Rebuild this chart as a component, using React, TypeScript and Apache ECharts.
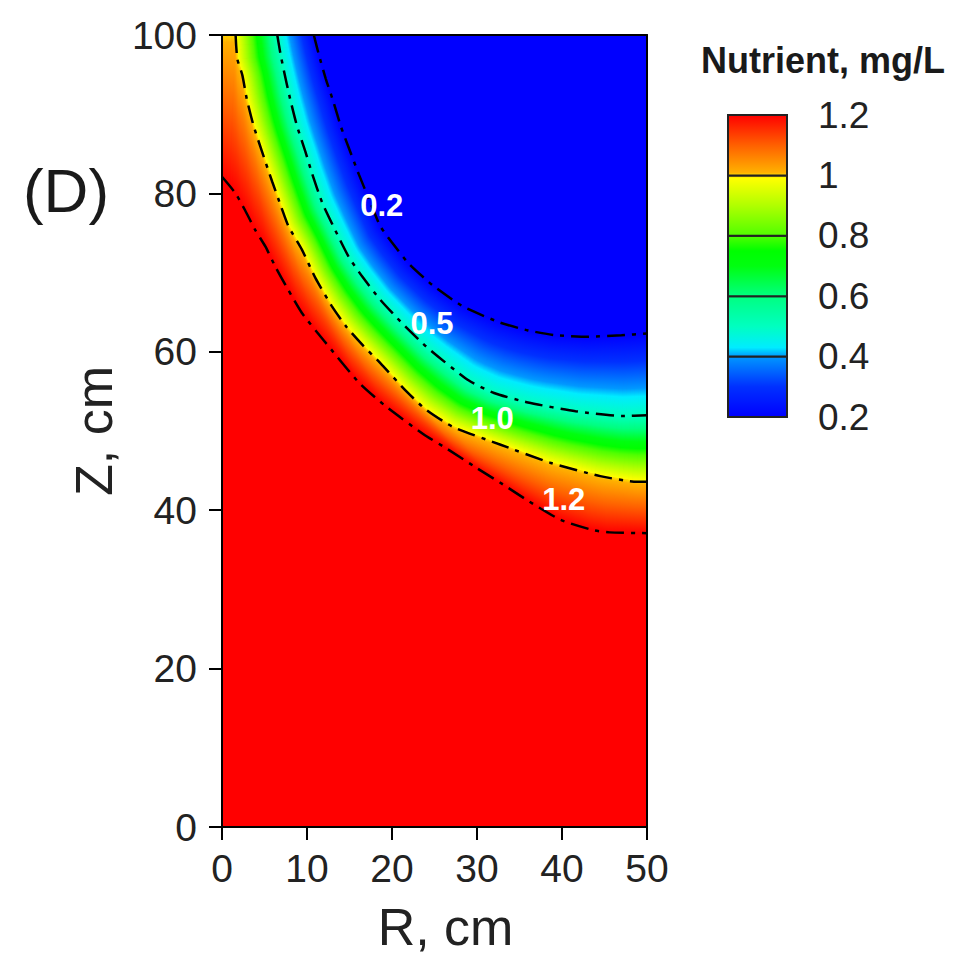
import React, { useEffect, useRef } from 'react';
import * as echarts from 'echarts';

// ---- Axes ----
const rMin = 0, rMax = 50, rInterval = 10;
const zMin = 0, zMax = 100, zInterval = 20;

// ---- Contour lines: [R (cm), Z (cm)] ----
const contourLevels = [0.2, 0.5, 1.0, 1.2];
const contour02 = [
  [10.8, 100], [11.4, 97.5], [12.2, 94.5], [13.1, 91.6], [14.0, 88.4], [14.9, 85.8], [16.1, 82.4],
  [17.4, 79.0], [18.6, 75.9], [20.0, 73.8], [22.0, 71.1], [24.9, 68.3], [28.4, 65.7], [32.7, 63.7],
  [36.0, 62.7], [39.2, 62.1], [43.1, 61.9], [47.0, 62.1], [50.0, 62.3],
];
const contour05 = [
  [6.5, 100], [6.9, 97.5], [7.3, 95.4], [8.0, 92.0], [8.8, 88.6], [9.8, 85.3], [10.6, 82.5],
  [11.8, 78.8], [13.3, 75.4], [14.9, 72.0], [16.5, 69.5], [18.6, 66.6], [21.2, 63.6], [24.3, 60.4],
  [29.0, 56.4], [32.0, 54.8], [36.0, 53.6], [41.6, 52.5], [47.1, 51.9], [50.0, 52.0],
];
const contour10 = [
  [1.6, 100], [1.8, 97.0], [2.4, 94.9], [2.9, 92.0], [3.7, 88.6], [4.7, 85.3], [5.9, 81.5],
  [7.0, 78.2], [7.8, 75.9], [9.4, 72.9], [11.0, 69.3], [12.9, 65.8], [14.6, 63.2], [16.5, 60.9],
  [18.6, 58.6], [21.7, 55.0], [24.0, 52.7], [27.2, 50.5], [32.7, 48.3], [38.6, 46.0], [44.5, 44.3],
  [48.8, 43.6], [50.0, 43.6],
];
const contour12 = [
  [0, 82.1], [1.6, 80.0], [2.7, 77.9], [3.9, 75.4], [5.1, 73.3], [6.3, 70.7], [7.8, 67.8],
  [9.4, 64.9], [12.0, 61.4], [16.2, 56.0], [19.4, 53.0], [23.7, 49.6], [26.4, 47.8], [30.0, 45.3],
  [32.7, 43.5], [36.0, 41.2], [39.8, 38.8], [43.6, 37.5], [45.6, 37.2], [50.0, 37.1],
];
const topLeftCorner = [0, 100];
const topRightCorner = [50, 100];

// ---- Contour labels ----
const labelText = ['0.2', '0.5', '1.0', '1.2'];
const labelR = [18.8, 24.7, 31.8, 40.2];
const labelZ = [78.5, 63.6, 51.6, 41.3];

// ---- Colour scale ----
const colorbarTicks = [0.2, 0.4, 0.6, 0.8, 1.0, 1.2];
const cmValues = [0.2, 0.3, 0.4, 0.43, 0.5, 0.6, 0.7, 0.75, 0.8, 0.9, 0.99, 1.01, 1.1, 1.2];
const cmColors = ['#0000ff', '#0030ff', '#0098ff', '#00ecff', '#00ffc0', '#00ff80', '#00ff10',
  '#00ff00', '#50ff00', '#b0ff00', '#ffff00', '#ffb000', '#ff6000', '#ff0000'];

const FONT = '"Liberation Sans", Arial, Helvetica, sans-serif';

function hexToRgb(h: string) {
  return [parseInt(h.slice(1, 3), 16), parseInt(h.slice(3, 5), 16), parseInt(h.slice(5, 7), 16)];
}
function colorAt(v: number): string {
  if (v <= cmValues[0]) return cmColors[0];
  for (let i = 0; i < cmValues.length - 1; i++) {
    if (v <= cmValues[i + 1]) {
      const f = (v - cmValues[i]) / (cmValues[i + 1] - cmValues[i]);
      const a = hexToRgb(cmColors[i]), b = hexToRgb(cmColors[i + 1]);
      const c = a.map((x, k) => Math.round(x + (b[k] - x) * f));
      return `rgb(${c[0]},${c[1]},${c[2]})`;
    }
  }
  return cmColors[cmColors.length - 1];
}
function gradStops(from: number, to: number) {
  const stops: { offset: number; color: string }[] = [{ offset: 0, color: colorAt(from) }];
  const lo = Math.min(from, to), hi = Math.max(from, to);
  cmValues.forEach((v, i) => {
    if (v > lo && v < hi) stops.push({ offset: (v - from) / (to - from), color: cmColors[i] });
  });
  stops.push({ offset: 1, color: colorAt(to) });
  stops.sort((a, b) => a.offset - b.offset);
  return stops;
}
function resample(pts: number[][], n: number) {
  const cum = [0];
  for (let i = 1; i < pts.length; i++) {
    cum.push(cum[i - 1] + Math.hypot(pts[i][0] - pts[i - 1][0], pts[i][1] - pts[i - 1][1]));
  }
  const total = cum[cum.length - 1];
  const out: number[][] = [];
  let j = 0;
  for (let k = 0; k <= n; k++) {
    const t = (total * k) / n;
    while (j < pts.length - 2 && cum[j + 1] < t) j++;
    const seg = cum[j + 1] - cum[j] || 1;
    const f = Math.min(1, Math.max(0, (t - cum[j]) / seg));
    out.push([pts[j][0] + f * (pts[j + 1][0] - pts[j][0]), pts[j][1] + f * (pts[j + 1][1] - pts[j][1])]);
  }
  return out;
}

// bands between consecutive contour lines
const bands = [
  { a: contour02, b: contour05, va: 0.2, vb: 0.5 },
  { a: contour05, b: contour10, va: 0.5, vb: 1.0 },
  { a: [topLeftCorner, ...contour10], b: contour12, va: 1.0, vb: 1.2 },
];

function buildOption() {
  const contours = [contour02, contour05, contour10, contour12];
  const axisLabelStyle = { color: '#222', fontSize: 39, fontFamily: FONT };
  return {
    animation: false,
    backgroundColor: '#ffffff',
    grid: [
      { left: 222, top: 35, width: 425, height: 792, show: true, backgroundColor: '#ff0000', borderWidth: 0 },
      { left: 728, top: 115, width: 59, height: 302 },
    ],
    xAxis: [
      {
        type: 'value', gridIndex: 0, min: rMin, max: rMax, interval: rInterval, position: 'bottom', z: 6,
        name: 'R, cm', nameLocation: 'middle', nameGap: 74,
        nameTextStyle: { color: '#222', fontSize: 52, fontFamily: FONT, padding: [0, 0, 0, 22] },
        axisLine: { show: true, onZero: false, lineStyle: { color: '#000', width: 2 } },
        axisTick: { show: true, inside: false, length: 13, lineStyle: { color: '#000', width: 2 } },
        axisLabel: { ...axisLabelStyle, margin: 22 },
        splitLine: { show: false },
      },
      {
        type: 'value', gridIndex: 0, min: rMin, max: rMax, position: 'top', z: 6,
        axisLine: { show: true, onZero: false, lineStyle: { color: '#000', width: 2 } },
        axisTick: { show: false }, axisLabel: { show: false }, splitLine: { show: false },
      },
      { type: 'value', gridIndex: 1, min: 0, max: 1, show: false },
    ],
    yAxis: [
      {
        type: 'value', gridIndex: 0, min: zMin, max: zMax, interval: zInterval, position: 'left', z: 6,
        name: 'Z, cm', nameLocation: 'middle', nameGap: 102, nameRotate: 90,
        nameTextStyle: { color: '#222', fontSize: 52, fontFamily: FONT },
        axisLine: { show: true, onZero: false, lineStyle: { color: '#000', width: 2 } },
        axisTick: { show: true, inside: false, length: 13, lineStyle: { color: '#000', width: 2 } },
        axisLabel: { ...axisLabelStyle, margin: 25 },
        splitLine: { show: false },
      },
      {
        type: 'value', gridIndex: 0, min: zMin, max: zMax, position: 'right', z: 6,
        axisLine: { show: true, onZero: false, lineStyle: { color: '#000', width: 2 } },
        axisTick: { show: false }, axisLabel: { show: false }, splitLine: { show: false },
      },
      {
        type: 'value', gridIndex: 1, min: 0.2, max: 1.2, interval: 0.2, position: 'right',
        axisLine: { show: false }, axisTick: { show: false }, splitLine: { show: false },
        axisLabel: { color: '#222', fontSize: 37, fontFamily: FONT, margin: 31 },
      },
    ],
    graphic: [
      { type: 'text', x: 66, y: 190, style: { text: '(D)', fontSize: 62, fontFamily: FONT, fill: '#1a1a1a', textAlign: 'center', textVerticalAlign: 'middle' } },
      { type: 'text', x: 823, y: 60, style: { text: 'Nutrient, mg/L', fontSize: 36, fontWeight: 'bold', fontFamily: FONT, fill: '#1a1a1a', textAlign: 'center', textVerticalAlign: 'middle' } },
    ],
    series: [
      // region below 0.2 (blue)
      {
        type: 'custom', xAxisIndex: 0, yAxisIndex: 0, z: 1, silent: true,
        data: [[0, 0]],
        renderItem: (_params: any, api: any) => {
          const pts = [...contour02, topRightCorner].map((p) => api.coord(p));
          return { type: 'polygon', shape: { points: pts }, style: { fill: colorAt(0.2), stroke: colorAt(0.2), lineWidth: 1 } };
        },
      },
      // gradient bands between contours
      {
        type: 'custom', xAxisIndex: 0, yAxisIndex: 0, z: 1, silent: true,
        data: bands.map((_, i) => [i, 0]),
        renderItem: (params: any, api: any) => {
          const band = bands[params.dataIndex];
          const N = 140;
          const a = resample(band.a.map((p) => api.coord(p)), N);
          const b = resample(band.b.map((p) => api.coord(p)), N);
          const stops = gradStops(band.va, band.vb);
          const children: any[] = [];
          for (let i = 0; i < N; i++) {
            const ma = [(a[i][0] + a[i + 1][0]) / 2, (a[i][1] + a[i + 1][1]) / 2];
            const mb = [(b[i][0] + b[i + 1][0]) / 2, (b[i][1] + b[i + 1][1]) / 2];
            let tx = (a[i + 1][0] - a[i][0]) + (b[i + 1][0] - b[i][0]);
            let ty = (a[i + 1][1] - a[i][1]) + (b[i + 1][1] - b[i][1]);
            const tl = Math.hypot(tx, ty) || 1;
            tx /= tl; ty /= tl;
            const dx = mb[0] - ma[0], dy = mb[1] - ma[1];
            const dot = dx * tx + dy * ty;
            const nx = dx - dot * tx, ny = dy - dot * ty;
            const g = new echarts.graphic.LinearGradient(ma[0], ma[1], ma[0] + nx, ma[1] + ny, stops, true);
            children.push({
              type: 'polygon',
              shape: { points: [a[i], a[i + 1], b[i + 1], b[i]] },
              style: { fill: g, stroke: g, lineWidth: 1.2 },
            });
          }
          return { type: 'group', children };
        },
      },
      // contour lines
      ...contours.map((c, i) => ({
        type: 'line', name: String(contourLevels[i]), xAxisIndex: 0, yAxisIndex: 0, z: 3,
        data: c, showSymbol: false, symbol: 'none', smooth: 0.2, silent: true,
        lineStyle: { color: '#000', width: 2.5, type: [18, 7, 4, 7] },
      })),
      // contour labels
      {
        type: 'scatter', xAxisIndex: 0, yAxisIndex: 0, z: 4, symbolSize: 0, silent: true,
        data: labelText.map((t, i) => ({ name: t, value: [labelR[i], labelZ[i]] })),
        label: {
          show: true, position: 'inside', formatter: (p: any) => p.name,
          color: '#ffffff', fontSize: 31, fontWeight: 'bold', fontFamily: FONT,
          textBorderWidth: 0, textBorderColor: 'transparent', opacity: 1,
        },
      },
      // colour bar
      {
        type: 'custom', xAxisIndex: 2, yAxisIndex: 2, z: 2, silent: true,
        data: colorbarTicks.slice(0, -1).map((lo, i) => [lo, colorbarTicks[i + 1]]),
        renderItem: (_params: any, api: any) => {
          const lo = api.value(0), hi = api.value(1);
          const p1 = api.coord([0, hi]);
          const p2 = api.coord([1, lo]);
          const g = new echarts.graphic.LinearGradient(0, 0, 0, 1, gradStops(hi, lo));
          return {
            type: 'rect',
            shape: { x: p1[0], y: p1[1], width: p2[0] - p1[0], height: p2[1] - p1[1] },
            style: { fill: g, stroke: '#222', lineWidth: 2 },
          };
        },
      },
    ],
  };
}

export default function App() {
  const ref = useRef<HTMLDivElement>(null);
  useEffect(() => {
    if (!ref.current) return;
    const chart = echarts.init(ref.current, null, { renderer: 'svg' });
    chart.setOption(buildOption() as any);
    return () => chart.dispose();
  }, []);
  return (
    <div
      ref={ref}
      style={{ position: 'fixed', left: 0, top: 0, width: 969, height: 965, background: '#ffffff' }}
    />
  );
}
